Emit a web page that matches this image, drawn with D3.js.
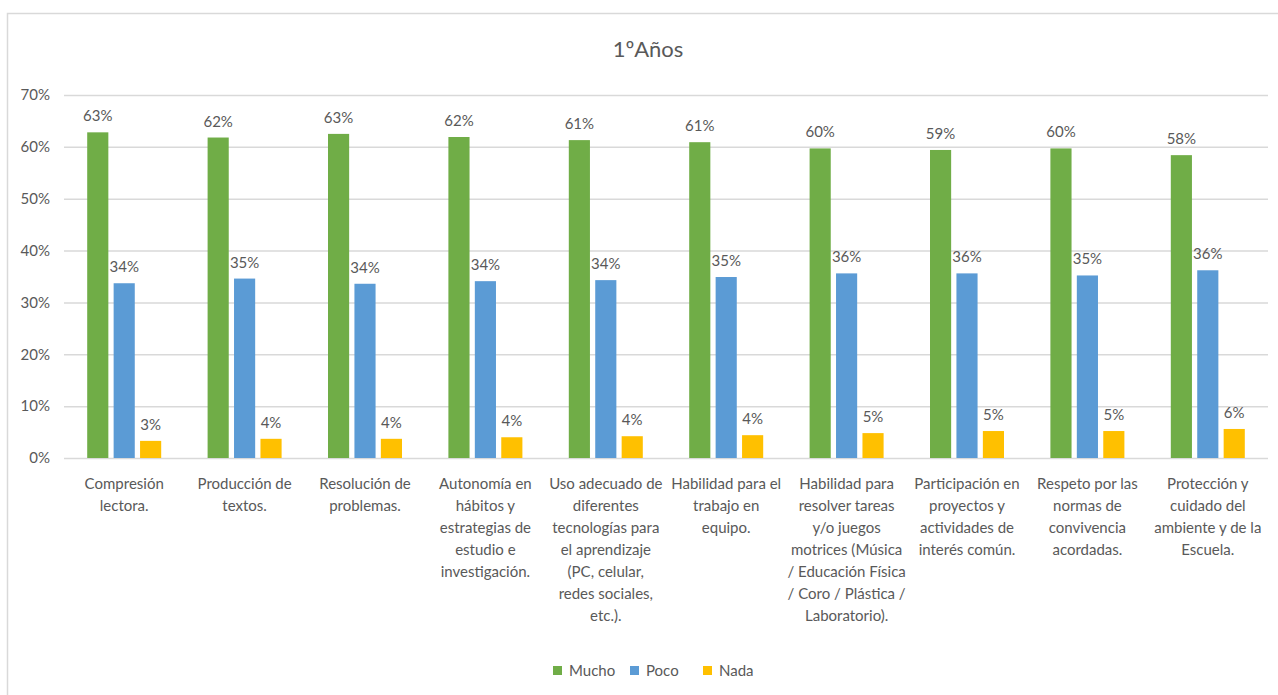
<!DOCTYPE html>
<html>
<head>
<meta charset="utf-8">
<script src="https://cdn.jsdelivr.net/npm/d3@7"></script>
<style>
  body { margin: 0; background: #fff; }
  text { font-family: Lato, "Open Sans", sans-serif; fill: #595959; }
</style>
</head>
<body>
<div class="container"></div>
<script>
const categories = [
  ['Compresión', 'lectora.'],
  ['Producción de', 'textos.'],
  ['Resolución de', 'problemas.'],
  ['Autonomía en', 'hábitos y', 'estrategias de', 'estudio e', 'investigación.'],
  ['Uso adecuado de', 'diferentes', 'tecnologías para', 'el aprendizaje', '(PC, celular,', 'redes sociales,', 'etc.).'],
  ['Habilidad para el', 'trabajo en', 'equipo.'],
  ['Habilidad para', 'resolver tareas', 'y/o juegos', 'motrices (Música', '/ Educación Física', '/ Coro / Plástica /', 'Laboratorio).'],
  ['Participación en', 'proyectos y', 'actividades de', 'interés común.'],
  ['Respeto por las', 'normas de', 'convivencia', 'acordadas.'],
  ['Protección y', 'cuidado del', 'ambiente y de la', 'Escuela.'],
];
const mucho = [0.628, 0.618, 0.625, 0.619, 0.613, 0.609, 0.597, 0.594, 0.597, 0.584];
const poco = [0.337, 0.346, 0.336, 0.341, 0.343, 0.349, 0.356, 0.356, 0.352, 0.362];
const nada = [0.033, 0.037, 0.037, 0.040, 0.042, 0.044, 0.048, 0.052, 0.052, 0.056];
const seriesNames = ['Mucho', 'Poco', 'Nada'];
const colors = ['#70ad47', '#5b9bd5', '#ffc000'];
const yTicks = [0, 0.1, 0.2, 0.3, 0.4, 0.5, 0.6, 0.7];

const width = 1278;
const height = 695;
const plotLeft = 64;
const plotRight = 1268;
const plotTop = 95;
const plotBottom = 458;

const series = [mucho, poco, nada];

const x = d3.scaleBand().domain(d3.range(categories.length)).range([plotLeft, plotRight]);
const inner = d3.scaleBand().domain(d3.range(3)).range([0, 74]).paddingInner(0.2);
const y = d3.scaleLinear().domain([0, 0.7]).range([plotBottom, plotTop]);
const fmt = d3.format('.0%');

const svg = d3.select('.container')
  .append('svg')
  .attr('width', width)
  .attr('height', height);

// chart frame
svg.append('rect')
  .attr('x', 7.5).attr('y', 13.5)
  .attr('width', 1290).attr('height', 700)
  .attr('fill', 'none')
  .attr('stroke', '#d9d9d9')
  .attr('stroke-width', 1.5);

svg.append('text')
  .attr('x', 648).attr('y', 57)
  .attr('text-anchor', 'middle')
  .style('font-size', '22px')
  .text('1ºAños');

// gridlines + y labels
const yAxis = d3.axisLeft(y).tickValues(yTicks).tickFormat(fmt).tickSize(-(plotRight - plotLeft)).tickPadding(14);
const gy = svg.append('g').attr('transform', `translate(${plotLeft},0)`).call(yAxis);
gy.select('.domain').remove();
gy.selectAll('.tick line').attr('stroke', '#d9d9d9').attr('stroke-width', 1.5);
gy.selectAll('.tick text').style('font-size', '15px').attr('fill', '#595959');

// x labels
const xAxis = d3.axisBottom(x).tickSize(0).tickFormat('');
const gx = svg.append('g').attr('transform', `translate(0,${plotBottom})`).call(xAxis);
gx.select('.domain').remove();
gx.selectAll('.tick').each(function (d) {
  const t = d3.select(this).append('text')
    .attr('text-anchor', 'middle')
    .attr('fill', '#595959')
    .style('font-size', '15px')
    .style('font-family', 'Lato, sans-serif');
  categories[d].forEach((line, i) => {
    t.append('tspan').attr('x', 0).attr('y', 31 + i * 22).text(line);
  });
});

// bars
const groups = svg.append('g')
  .selectAll('g')
  .data(categories.map((c, i) => i))
  .join('g')
  .attr('transform', (i) => `translate(${x(i) + x.bandwidth() / 2 - 37},0)`);

groups.selectAll('rect')
  .data((i) => series.map((s, k) => ({ k, v: s[i] })))
  .join('rect')
  .attr('x', (d) => inner(d.k))
  .attr('width', inner.bandwidth())
  .attr('y', (d) => y(d.v))
  .attr('height', (d) => plotBottom - y(d.v))
  .attr('fill', (d) => colors[d.k]);

groups.selectAll('text.lbl')
  .data((i) => series.map((s, k) => ({ k, v: s[i] })))
  .join('text')
  .attr('class', 'lbl')
  .attr('x', (d) => inner(d.k) + inner.bandwidth() / 2)
  .attr('y', (d) => y(d.v) - 11)
  .attr('text-anchor', 'middle')
  .style('font-size', '15px')
  .text((d) => fmt(d.v));

// legend
const legendX = [553, 630, 703];
const legend = svg.append('g')
  .selectAll('g')
  .data(seriesNames)
  .join('g')
  .attr('transform', (d, i) => `translate(${legendX[i]},666)`);
legend.append('rect').attr('width', 9).attr('height', 9).attr('fill', (d, i) => colors[i]);
legend.append('text').attr('x', 16).attr('y', 10).style('font-size', '15px').text((d) => d);
</script>
</body>
</html>
